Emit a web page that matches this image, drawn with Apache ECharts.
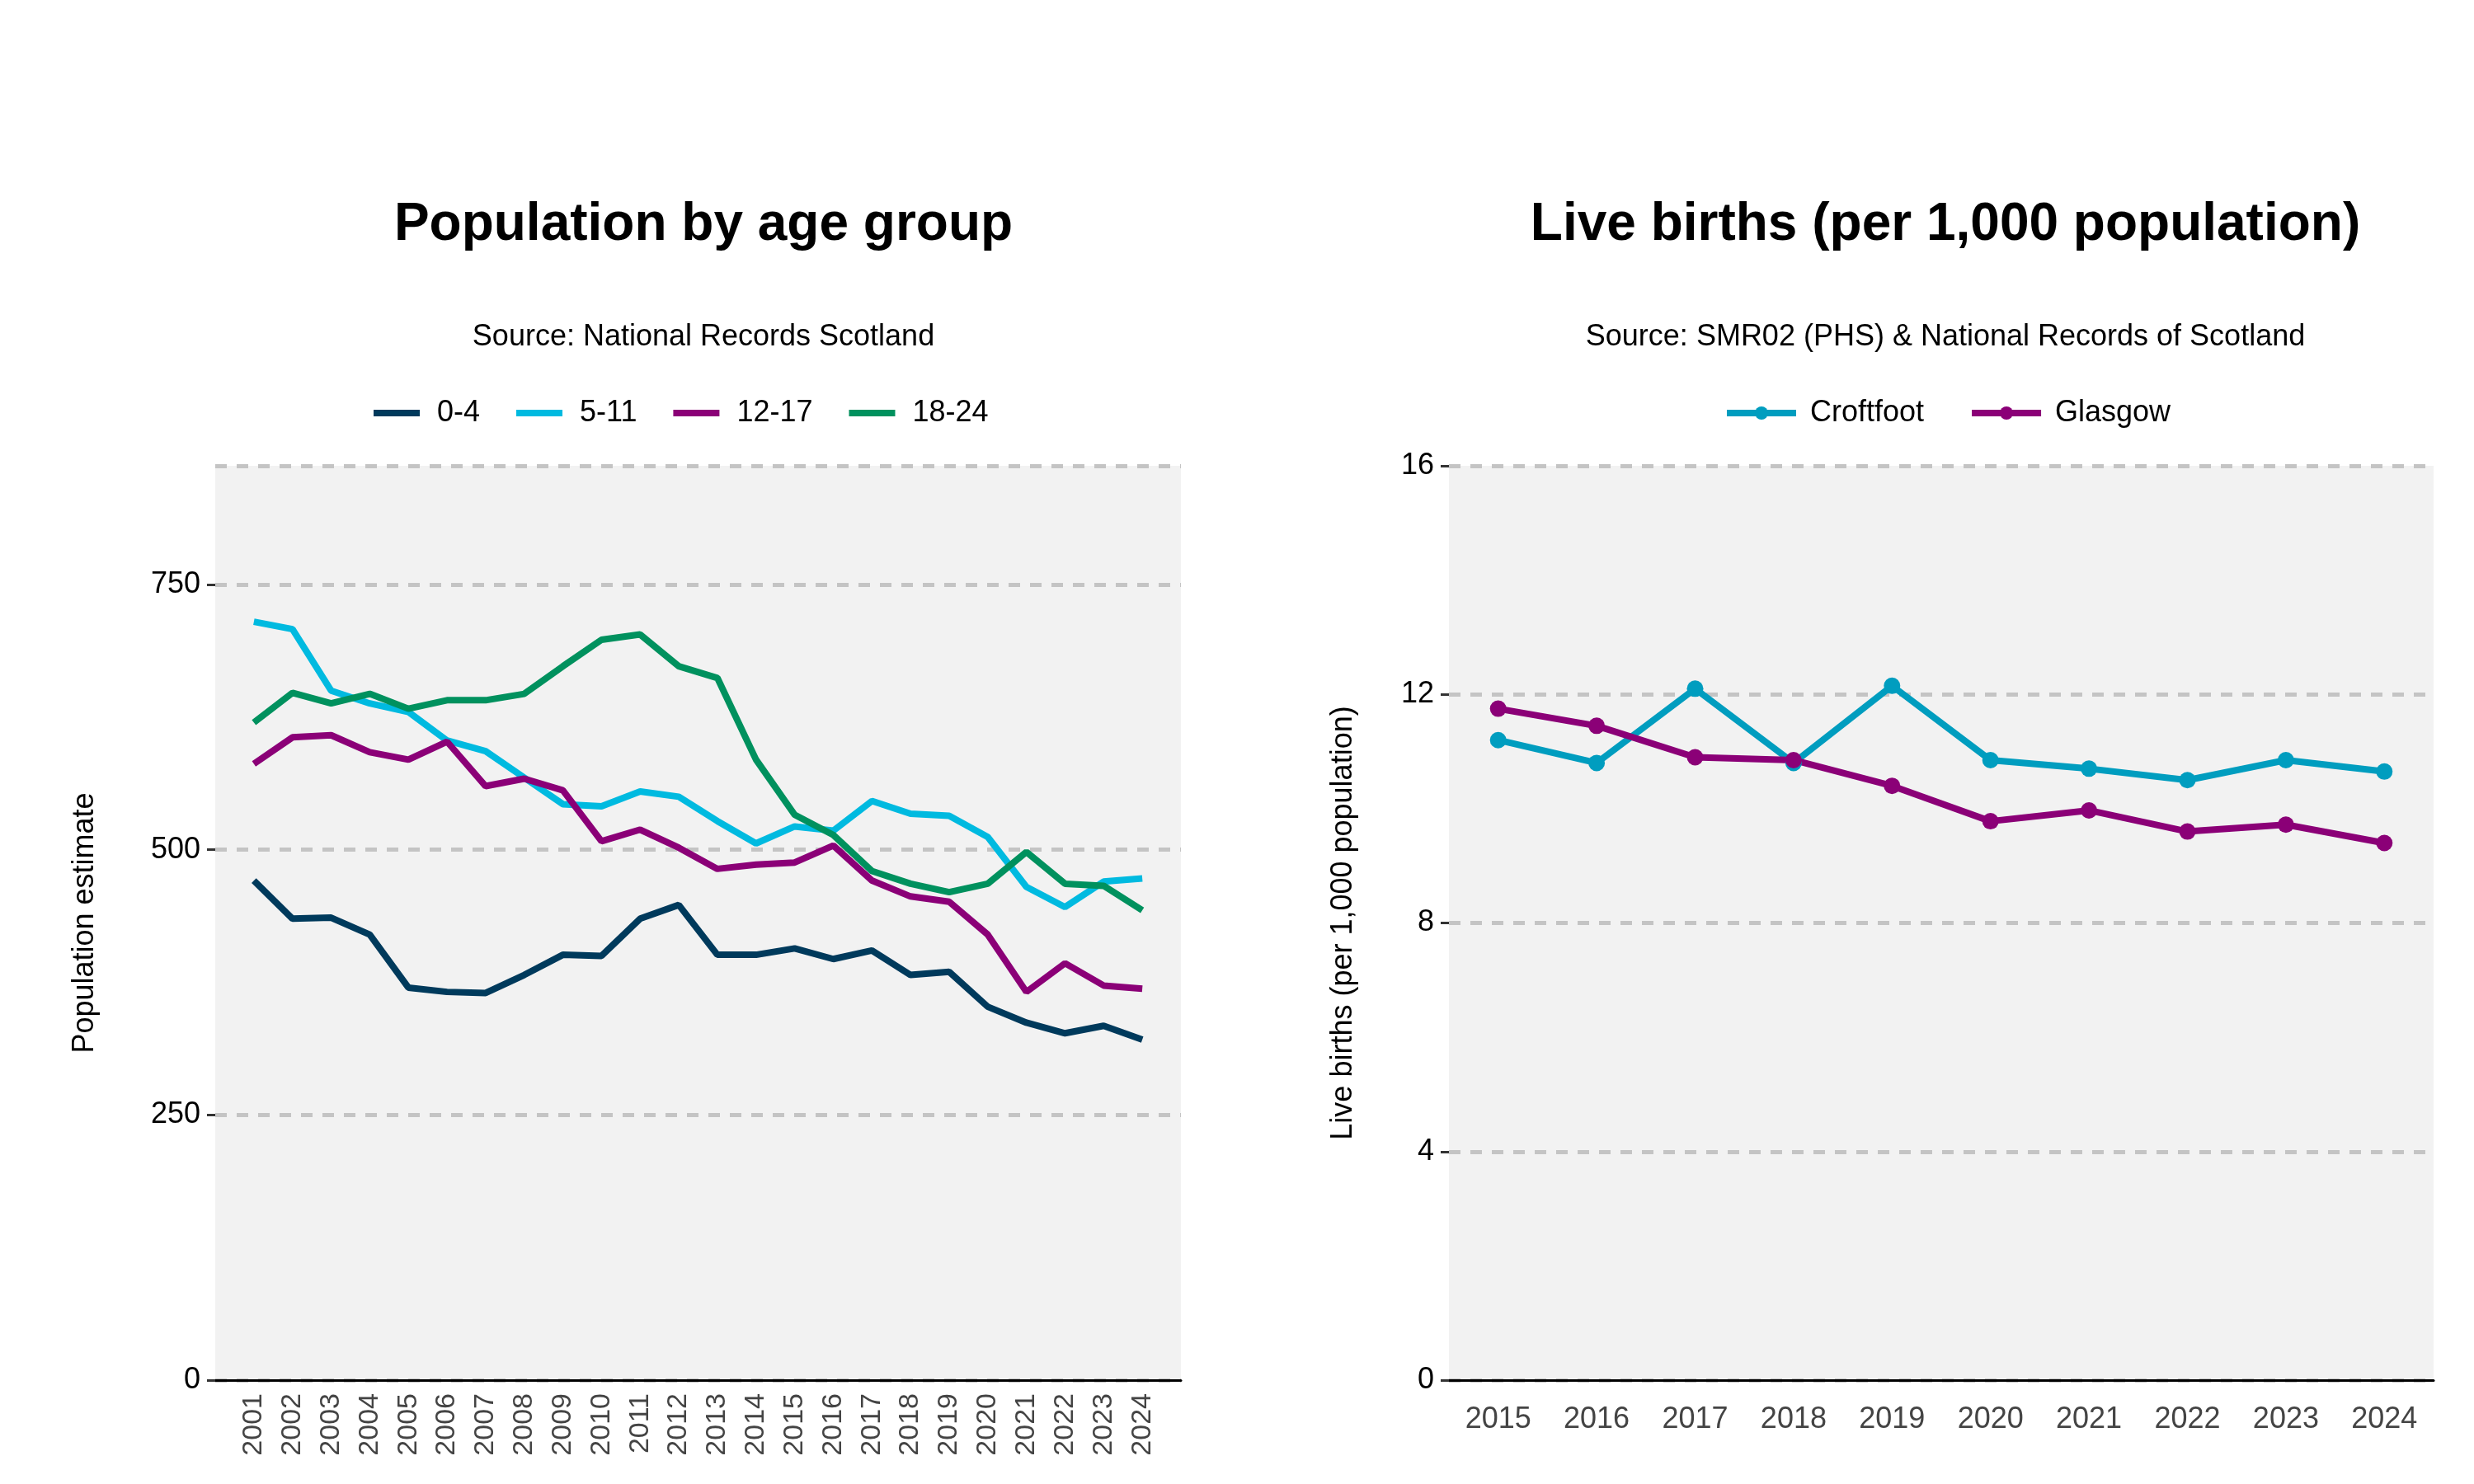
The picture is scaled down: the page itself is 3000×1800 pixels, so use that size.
<!DOCTYPE html>
<html><head><meta charset="utf-8">
<script src="https://cdn.jsdelivr.net/npm/echarts@6/dist/echarts.min.js"></script>
<style>html,body{margin:0;padding:0;background:#fff}#chart{width:3000px;height:1800px}</style>
</head><body><div id="chart"></div>
<script>
var years = [];
for (var y = 2001; y <= 2024; y++) years.push(y);
var age04 = [471, 435, 436, 420, 370, 366, 365, 382, 401, 400, 435, 448, 401, 401, 407, 397, 405, 382, 385, 352, 337, 327, 334, 321];
var age511 = [715, 708, 650, 638, 630, 603, 593, 568, 543, 541, 555, 550, 527, 506, 522, 518, 546, 534, 532, 512, 465, 446, 470, 473];
var age1217 = [581, 606, 608, 592, 585, 602, 560, 567, 556, 508, 519, 502, 482, 486, 488, 504, 471, 456, 451, 420, 366, 393, 372, 369];
var age1824 = [620, 648, 638, 647, 633, 641, 641, 647, 673, 698, 703, 673, 662, 585, 533, 514, 480, 468, 460, 468, 498, 468, 466, 443];

var birthYears = ['2015', '2016', '2017', '2018', '2019', '2020', '2021', '2022', '2023', '2024'];
var croftfoot = [11.2, 10.8, 12.1, 10.8, 12.15, 10.85, 10.7, 10.5, 10.85, 10.65];
var glasgow = [11.75, 11.45, 10.9, 10.85, 10.4, 9.78, 9.97, 9.6, 9.72, 9.4];

var font = 'Liberation Sans';
var pair = function (vals) { return vals.map(function (v, i) { return [years[i], v]; }); };
var split = { show: true, lineStyle: { color: '#c4c4c4', type: [14, 12], width: 5 } };
var lineSeries = function (name, data, color, xi) {
    return { name: name, type: 'line', data: data, xAxisIndex: xi, yAxisIndex: xi,
        showSymbol: xi === 1, symbol: 'circle', symbolSize: 20,
        lineStyle: { width: 8, color: color }, itemStyle: { color: color } };
};

var chart = echarts.init(document.getElementById('chart'));
chart.setOption({
    backgroundColor: '#fff',
    textStyle: { fontFamily: font },
    animation: false,
    title: [
        { text: 'Population by age group', subtext: 'Source: National Records Scotland', left: 848, top: 236, textAlign: 'center', itemGap: 86,
          textStyle: { fontSize: 64, fontWeight: 'bold', color: '#000' }, subtextStyle: { fontSize: 36, color: '#000' } },
        { text: 'Live births (per 1,000 population)', subtext: 'Source: SMR02 (PHS) & National Records of Scotland', left: 2354, top: 236, textAlign: 'center', itemGap: 86,
          textStyle: { fontSize: 64, fontWeight: 'bold', color: '#000' }, subtextStyle: { fontSize: 36, color: '#000' } }
    ],
    legend: [
        { data: ['0-4', '5-11', '12-17', '18-24'], left: 448, top: 478, itemWidth: 56, itemHeight: 8, itemGap: 44,
          icon: 'rect', textStyle: { fontSize: 36, color: '#000', padding: [0, 0, 0, 16] } },
        { data: ['Croftfoot', 'Glasgow'], left: 2085, top: 478, itemWidth: 84, itemHeight: 20, itemGap: 54,
          textStyle: { fontSize: 36, color: '#000', padding: [0, 0, 0, 12] },
          lineStyle: { width: 8 } }
    ],
    grid: [
        { left: 261, right: 3000 - 1432, top: 565, bottom: 1800 - 1674, show: true, backgroundColor: '#f2f2f2', borderWidth: 0 },
        { left: 1757, right: 3000 - 2951, top: 565, bottom: 1800 - 1674, show: true, backgroundColor: '#f2f2f2', borderWidth: 0 }
    ],
    xAxis: [
        { type: 'value', gridIndex: 0, min: 2000, max: 2025, interval: 1,
          axisLine: { lineStyle: { color: '#000', width: 3 } }, axisTick: { show: false },
          splitLine: { show: false },
          axisLabel: { rotate: 90, fontSize: 34, color: '#444', margin: 16,
              formatter: function (v) { return (v < 2001 || v > 2024) ? '' : String(v); } } },
        { type: 'category', gridIndex: 1, data: birthYears, boundaryGap: true,
          axisLine: { lineStyle: { color: '#000', width: 3 } }, axisTick: { show: false },
          axisLabel: { fontSize: 36, color: '#444', margin: 30 } }
    ],
    yAxis: [
        { type: 'value', gridIndex: 0, min: 0, max: 862, interval: 250, name: 'Population estimate',
          nameLocation: 'middle', nameGap: 140, nameTextStyle: { fontSize: 36, color: '#000' },
          axisLine: { show: false }, axisTick: { show: true, length: 10, lineStyle: { color: '#333', width: 3 } },
          axisLabel: { fontSize: 36, color: '#000', margin: 18, showMaxLabel: false }, splitLine: split },
        { type: 'value', gridIndex: 1, min: 0, max: 16, interval: 4, name: 'Live births (per 1,000 population)',
          nameLocation: 'middle', nameGap: 110, nameTextStyle: { fontSize: 36, color: '#000' },
          axisLine: { show: false }, axisTick: { show: true, length: 10, lineStyle: { color: '#333', width: 3 } },
          axisLabel: { fontSize: 36, color: '#000', margin: 18 }, splitLine: split }
    ],
    series: [
        lineSeries('0-4', pair(age04), '#003a5c', 0),
        lineSeries('5-11', pair(age511), '#00bae0', 0),
        lineSeries('12-17', pair(age1217), '#8b0077', 0),
        lineSeries('18-24', pair(age1824), '#00915e', 0),
        lineSeries('Croftfoot', croftfoot, '#009dbf', 1),
        lineSeries('Glasgow', glasgow, '#8b0077', 1)
    ]
});
</script></body></html>
